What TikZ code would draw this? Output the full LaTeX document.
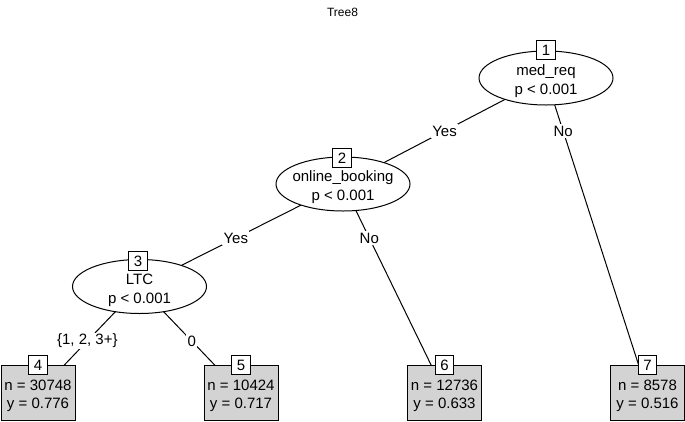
\documentclass[tikz,border=0pt]{standalone}
\usepackage{fontspec}
\setmainfont{Liberation Sans}
\usetikzlibrary{shapes.geometric,backgrounds}
\definecolor{leafgray}{RGB}{211,211,211}
\begin{document}
\begin{tikzpicture}[x=1pt,y=-1pt,
  innernode/.style={ellipse,draw,fill=white,line width=1pt,minimum width=134pt,minimum height=54pt,inner sep=0pt},
  leafnode/.style={rectangle,draw,fill=leafgray,line width=1pt,minimum width=74pt,minimum height=55pt,inner sep=0pt},
  idbox/.style={rectangle,draw,fill=white,line width=1pt,minimum size=18.5pt,inner sep=0pt,font=\fontsize{15}{15}\selectfont},
  txt/.style={align=center,font=\fontsize{15}{19}\selectfont,inner sep=0pt},
  leaftxt/.style={align=center,font=\fontsize{15}{18.5}\selectfont,inner sep=0pt},
  elabel/.style={fill=white,inner sep=1.5pt,font=\fontsize{15}{15}\selectfont},
  edgeline/.style={line width=1pt}]
\useasboundingbox (0,0) rectangle (685,421);
\node[font=\fontsize{12}{12}\selectfont] (title) at (342.5,12) {Tree8};
% inner nodes
\node[innernode] (n1) at (546,78) {};
\node[txt] (n1t) at (546,81.5) {med\_req\\p < 0.001};
\node[idbox] (b1) at (546,50) {1};
\node[innernode] (n2) at (343,184) {};
\node[txt] (n2t) at (343,187.5) {online\_booking\\p < 0.001};
\node[idbox] (b2) at (342,158) {2};
\node[innernode] (n3) at (139.5,286.5) {};
\node[txt] (n3t) at (139.5,290) {LTC\\p < 0.001};
\node[idbox] (b3) at (138,261) {3};
% leaves
\node[leafnode] (n4) at (38,392.5) {};
\node[leaftxt] (n4t) at (38,396) {n = 30748\\y = 0.776};
\node[idbox] (b4) at (38,365) {4};
\node[leafnode] (n5) at (241,392.5) {};
\node[leaftxt] (n5t) at (241,396) {n = 10424\\y = 0.717};
\node[idbox] (b5) at (241,365) {5};
\node[leafnode] (n6) at (444.5,392.5) {};
\node[leaftxt] (n6t) at (444.5,396) {n = 12736\\y = 0.633};
\node[idbox] (b6) at (444.5,365) {6};
\node[leafnode] (n7) at (647.5,392.5) {};
\node[leaftxt] (n7t) at (647.5,396) {n = 8578\\y = 0.516};
\node[idbox] (b7) at (647.5,365) {7};
% edges
\begin{scope}[on background layer]
\draw[edgeline] (n1.center) -- node[elabel,pos=0.5]{Yes} (n2.center);
\draw[edgeline] (n1.center) -- node[elabel,pos=0.1685]{No} (n7.center);
\draw[edgeline] (n2.center) -- node[elabel,pos=0.527]{Yes} (n3.center);
\draw[edgeline] (n2.center) -- node[elabel,pos=0.259]{No} (n6.center);
\draw[edgeline] (n3.center) -- node[elabel,pos=0.514]{\{1, 2, 3+\}} (n4.center);
\draw[edgeline] (n3.center) -- node[elabel,pos=0.514]{0} (n5.center);
\end{scope}
\end{tikzpicture}
\end{document}
